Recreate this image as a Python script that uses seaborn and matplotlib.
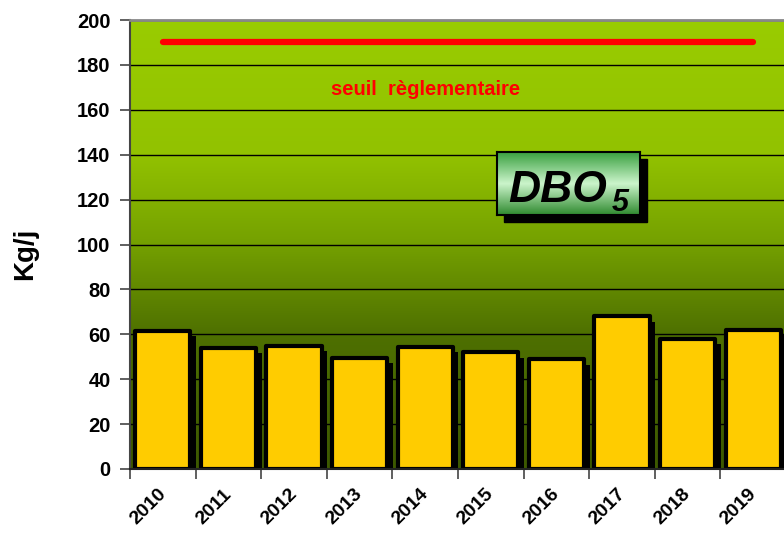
import numpy as np
import pandas as pd
import matplotlib
matplotlib.use('Agg')
import matplotlib.pyplot as plt
import matplotlib.patheffects as pe
import matplotlib.transforms as mtransforms
from matplotlib.colors import LinearSegmentedColormap
from matplotlib.patches import Rectangle
import seaborn as sns

# data
years = ['2010', '2011', '2012', '2013', '2014', '2015', '2016', '2017', '2018', '2019']
dbo5 = [61.5, 54, 55, 49.5, 54.5, 52, 49, 68, 58, 62]
seuil = 190
seuil_label = 'seuil  règlementaire'

plt.rcParams['font.family'] = ['Liberation Sans', 'DejaVu Sans']
plt.rcParams['font.weight'] = 'bold'

df = pd.DataFrame({'annee': years, 'kgj': dbo5})

fig = plt.figure(figsize=(7.84, 5.33), dpi=100)
ax = fig.add_axes([130 / 784, 1 - 469 / 533, 656 / 784, 449 / 533])
ax.set_zorder(0)

# green gradient background
bg = LinearSegmentedColormap.from_list('bg', [
    (0.0, '#3d5800'), (0.3, '#4e7000'), (0.5, '#74a000'),
    (0.7, '#92c200'), (1.0, '#99cc00')])
ax.imshow(np.linspace(0, 1, 256).reshape(-1, 1), cmap=bg, origin='lower',
          aspect='auto', extent=[0, 1, 0, 1], transform=ax.transAxes, zorder=0)

sns.barplot(data=df, x='annee', y='kgj', color='#FFCC00', saturation=1,
            edgecolor='black', linewidth=3, width=0.84, ax=ax, zorder=2)
for bar in ax.patches:
    bar.set_joinstyle('round')
    bar.set_path_effects([pe.SimplePatchShadow(offset=(4, -4), shadow_rgbFace='black', alpha=1.0),
                          pe.Normal()])

# threshold line
ax.plot(range(len(years)), [seuil] * len(years), color='#ff0000', lw=4.5,
        solid_capstyle='round', zorder=3)
ax.text(4, 169, seuil_label, color='#ff0000', fontsize=14.5, fontweight='bold',
        ha='center', va='center', zorder=3)

ax.set_xlim(-0.5, len(years) - 0.5)
ax.set_ylim(0, 200)
ax.set_yticks(range(0, 201, 20))
ax.set_axisbelow(True)
ax.yaxis.grid(True, color='black', lw=1)
ax.xaxis.grid(False)

ax.set_xlabel('')
ax.set_ylabel('')
ax.tick_params(axis='y', length=7, width=1.2, color='#444444', labelsize=14.5, pad=7)
ax.tick_params(axis='x', which='major', length=0, labelsize=14, pad=12)
ax.set_xticks(np.arange(-0.5, len(years), 1), minor=True)
ax.tick_params(axis='x', which='minor', length=7, width=1.2, color='#444444')
shift = mtransforms.ScaledTranslation(-4 / 72, 0, fig.dpi_scale_trans)
for lab in ax.get_xticklabels():
    lab.set_rotation(45)
    lab.set_ha('right')
    lab.set_rotation_mode('anchor')
    lab.set_fontweight('bold')
    lab.set_transform(lab.get_transform() + shift)
for lab in ax.get_yticklabels():
    lab.set_fontweight('bold')

ax.spines['top'].set_color('#888888')
ax.spines['top'].set_linewidth(2)
ax.spines['left'].set_color('#444444')
ax.spines['left'].set_linewidth(1.5)
ax.spines['bottom'].set_color('#222222')
ax.spines['bottom'].set_linewidth(1.5)
ax.spines['right'].set_visible(False)

fig.text(25 / 784, 1 - 254 / 533, 'Kg/j', rotation=90, fontsize=20,
         fontweight='bold', ha='center', va='center')

# DBO5 badge with shadow
bx, by, bw, bh = 497 / 784, 1 - 215 / 533, 143 / 784, 63 / 533
fig.add_artist(Rectangle((bx + 7 / 784, by - 7 / 533), bw, bh, transform=fig.transFigure,
                         facecolor='black', edgecolor='black', zorder=1))
bax = fig.add_axes([bx, by, bw, bh])
bax.set_zorder(2)
badge = LinearSegmentedColormap.from_list('badge', [
    (0.0, '#2f8a2f'), (0.5, '#ccf5cc'), (1.0, '#3aa040')])
bax.imshow(np.linspace(0, 1, 128).reshape(-1, 1), cmap=badge, origin='lower',
           aspect='auto', extent=[0, 1, 0, 1])
bax.set_xlim(0, 1)
bax.set_ylim(0, 1)
bax.set_xticks([])
bax.set_yticks([])
for s in bax.spines.values():
    s.set_color('black')
    s.set_linewidth(1.5)
bax.text(0.08, 0.2, 'DBO', fontsize=32, fontweight='bold', fontstyle='italic',
         ha='left', va='baseline')
bax.text(0.80, 0.07, '5', fontsize=22, fontweight='bold', fontstyle='italic',
         ha='left', va='baseline')

fig.savefig('out.png', dpi=100)
plt.close(fig)
